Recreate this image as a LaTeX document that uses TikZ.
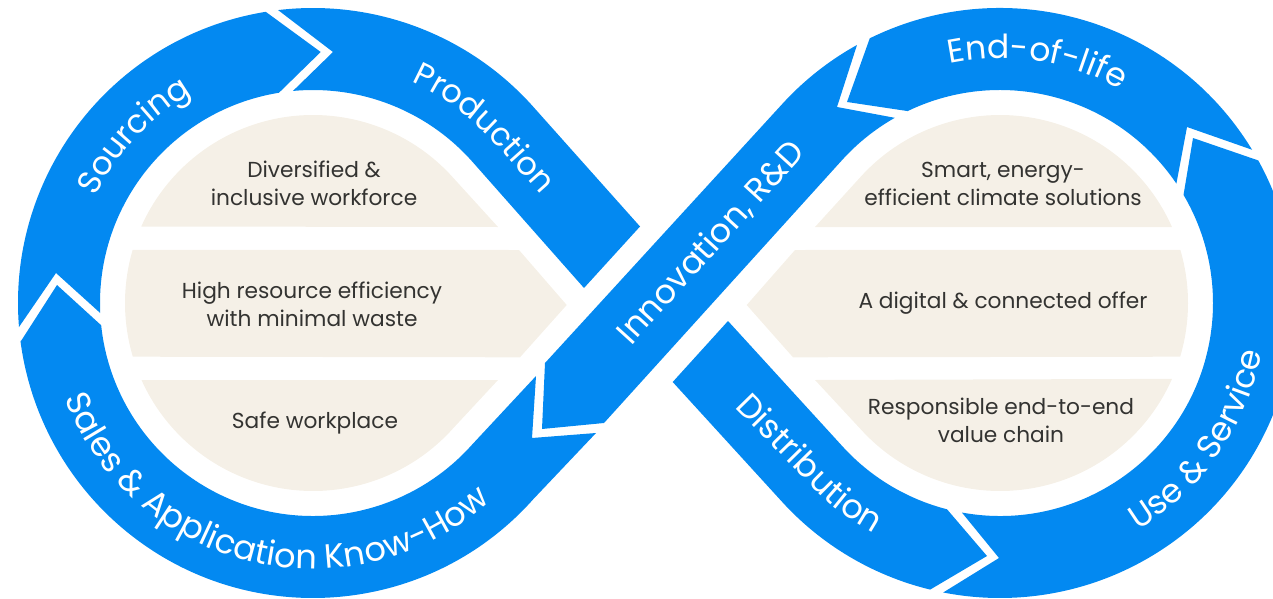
\documentclass[tikz,border=0pt]{standalone}
\usepackage{fontspec}
\setmainfont{Poppins}
\usetikzlibrary{calc,decorations.text}
\definecolor{bandblue}{HTML}{0389F1}
\definecolor{panelbeige}{HTML}{F5F0E7}
\definecolor{labelgrey}{HTML}{333331}
\tikzset{
  x=1pt,y=-1pt,
  band/.style={fill=bandblue},
  panel/.style={fill=panelbeige},
  panellabel/.style={text=labelgrey,align=center,inner sep=0pt,font=\fontsize{21.7}{28}\selectfont},
  bandtext/.style 2 args={decorate,decoration={text along path,text={|\fontsize{#1}{36}\selectfont\color{white}|#2}}}
}
\begin{document}
\begin{tikzpicture}
\clip (0,0) rectangle (1273,599);
\coordinate (L) at (313,303);
\coordinate (R) at (1000,303);
% blue bands
% Sourcing
\fill[band] ($(L)+(184.67:295pt)$) arc[start angle=184.67,end angle=99.22,radius=295pt]
  -- (320.7,52) -- ($(L)+(99.2:213pt)$) arc[start angle=99.2,end angle=182.7,radius=213pt]
  -- (56,273) -- cycle;
% Production
\fill[band] ($(L)+(96.8:295pt)$) arc[start angle=96.8,end angle=41.7,radius=295pt]
  -- (640,226.5) -- (584,288) -- ($(L)+(41.7:213pt)$) arc[start angle=41.7,end angle=95.4,radius=213pt]
  -- (333,52) -- cycle;
% Sales
\fill[band] (21,341) -- (57,285) -- ($(L)+(186:213pt)$) arc[start angle=186,end angle=318.3,radius=213pt]
  -- (536,376) -- (532,438) -- (596,433) -- ($(L)+(318.3:295pt)$) arc[start angle=318.3,end angle=187.4,radius=295pt]
  -- cycle;
% Innovation
\fill[band] ($(R)+(119:295pt)$) arc[start angle=119,end angle=138,radius=295pt]
  -- (545,363) -- (542,429) -- (604,423) -- ($(R)+(138:213pt)$) arc[start angle=138,end angle=119.6,radius=213pt]
  -- (837,107) -- cycle;
% End-of-life
\fill[band] ($(R)+(115.7:213pt)$) arc[start angle=115.7,end angle=34.1,radius=213pt]
  -- (1187,127) -- ($(R)+(31.3:295pt)$) arc[start angle=31.3,end angle=116.2,radius=295pt]
  -- (847,102) -- cycle;
% Use & Service
\fill[band] ($(R)+(28.9:295pt)$) arc[start angle=28.9,end angle=-101.1,radius=295pt]
  -- (999,558) -- ($(R)+(-100.3:213pt)$) arc[start angle=-100.3,end angle=30.5,radius=213pt]
  -- (1193,138) -- cycle;
% Distribution
\fill[band] (672.7,382) -- ($(R)+(222:295pt)$) arc[start angle=222,end angle=256.3,radius=295pt]
  -- (987,556) -- ($(R)+(255.6:213pt)$) arc[start angle=255.6,end angle=222,radius=213pt]
  -- (728,321) -- cycle;
% beige panels
\fill[panel] ($(L)+(156:188pt)$) arc[start angle=156,end angle=41.7,radius=188pt] -- (498,227) -- cycle;
\fill[panel] ($(L)+(163.6:188pt)$) -- (519,250) -- (566.7,305) -- (520,357.3) -- ($(L)+(196.6:188pt)$) arc[start angle=196.6,end angle=163.6,radius=188pt] -- cycle;
\fill[panel] ($(L)+(204.2:188pt)$) arc[start angle=204.2,end angle=318.3,radius=188pt] -- (498,380) -- cycle;
\fill[panel] ($(R)+(23.8:188pt)$) arc[start angle=23.8,end angle=138,radius=188pt] -- (815,227) -- cycle;
\fill[panel] ($(R)+(16.4:188pt)$) -- (795,250) -- (746.7,305) -- (793,357.3) -- ($(R)+(-16.6:188pt)$) arc[start angle=-16.6,end angle=16.4,radius=188pt] -- cycle;
\fill[panel] ($(R)+(-23.8:188pt)$) arc[start angle=-23.8,end angle=-138,radius=188pt] -- (815,380) -- cycle;
% panel labels
\node[panellabel] (diversified) at (314,183) {Diversified \&\\inclusive workforce};
\node[panellabel] (resource) at (312,304) {High resource efficiency\\with minimal waste};
\node[panellabel] (safe) at (315,423) {Safe workplace};
\node[panellabel] (smart) at (1003,184) {Smart, energy-\\efficient climate solutions};
\node[panellabel] (digital) at (1003,303) {A digital \& connected offer};
\node[panellabel] (responsible) at (1001,420) {Responsible end-to-end\\value chain};
% band labels
\path[bandtext={32.5}{Sourcing}] ($(L)+(154:242pt)$) arc[start angle=154,end angle=100,radius=242pt];
\path[bandtext={32.2}{Production}] ($(L)+(66:242pt)$) arc[start angle=66,end angle=41.7,radius=242pt] -- ++(-48.3:120pt);
\path[bandtext={33.7}{Sales {\&} Application Know-How}] ($(L)+(201:266pt)$) arc[start angle=201,end angle=330,radius=266pt];
\path[bandtext={33.3}{Innovation, R{\&}D}] (631,346) -- (870,83);
\path[bandtext={33}{End-of-life}] ($(R)+(101.8:245pt)$) arc[start angle=101.8,end angle=40,radius=245pt];
\path[bandtext={33.3}{Use {\&} Service}] ($(R)+(-58.7:266pt)$) arc[start angle=-58.7,end angle=10,radius=266pt];
\path[bandtext={33.4}{Distribution}] (734,407) -- ($(R)+(222:263pt)$) arc[start angle=222,end angle=270,radius=263pt];
\end{tikzpicture}
\end{document}
